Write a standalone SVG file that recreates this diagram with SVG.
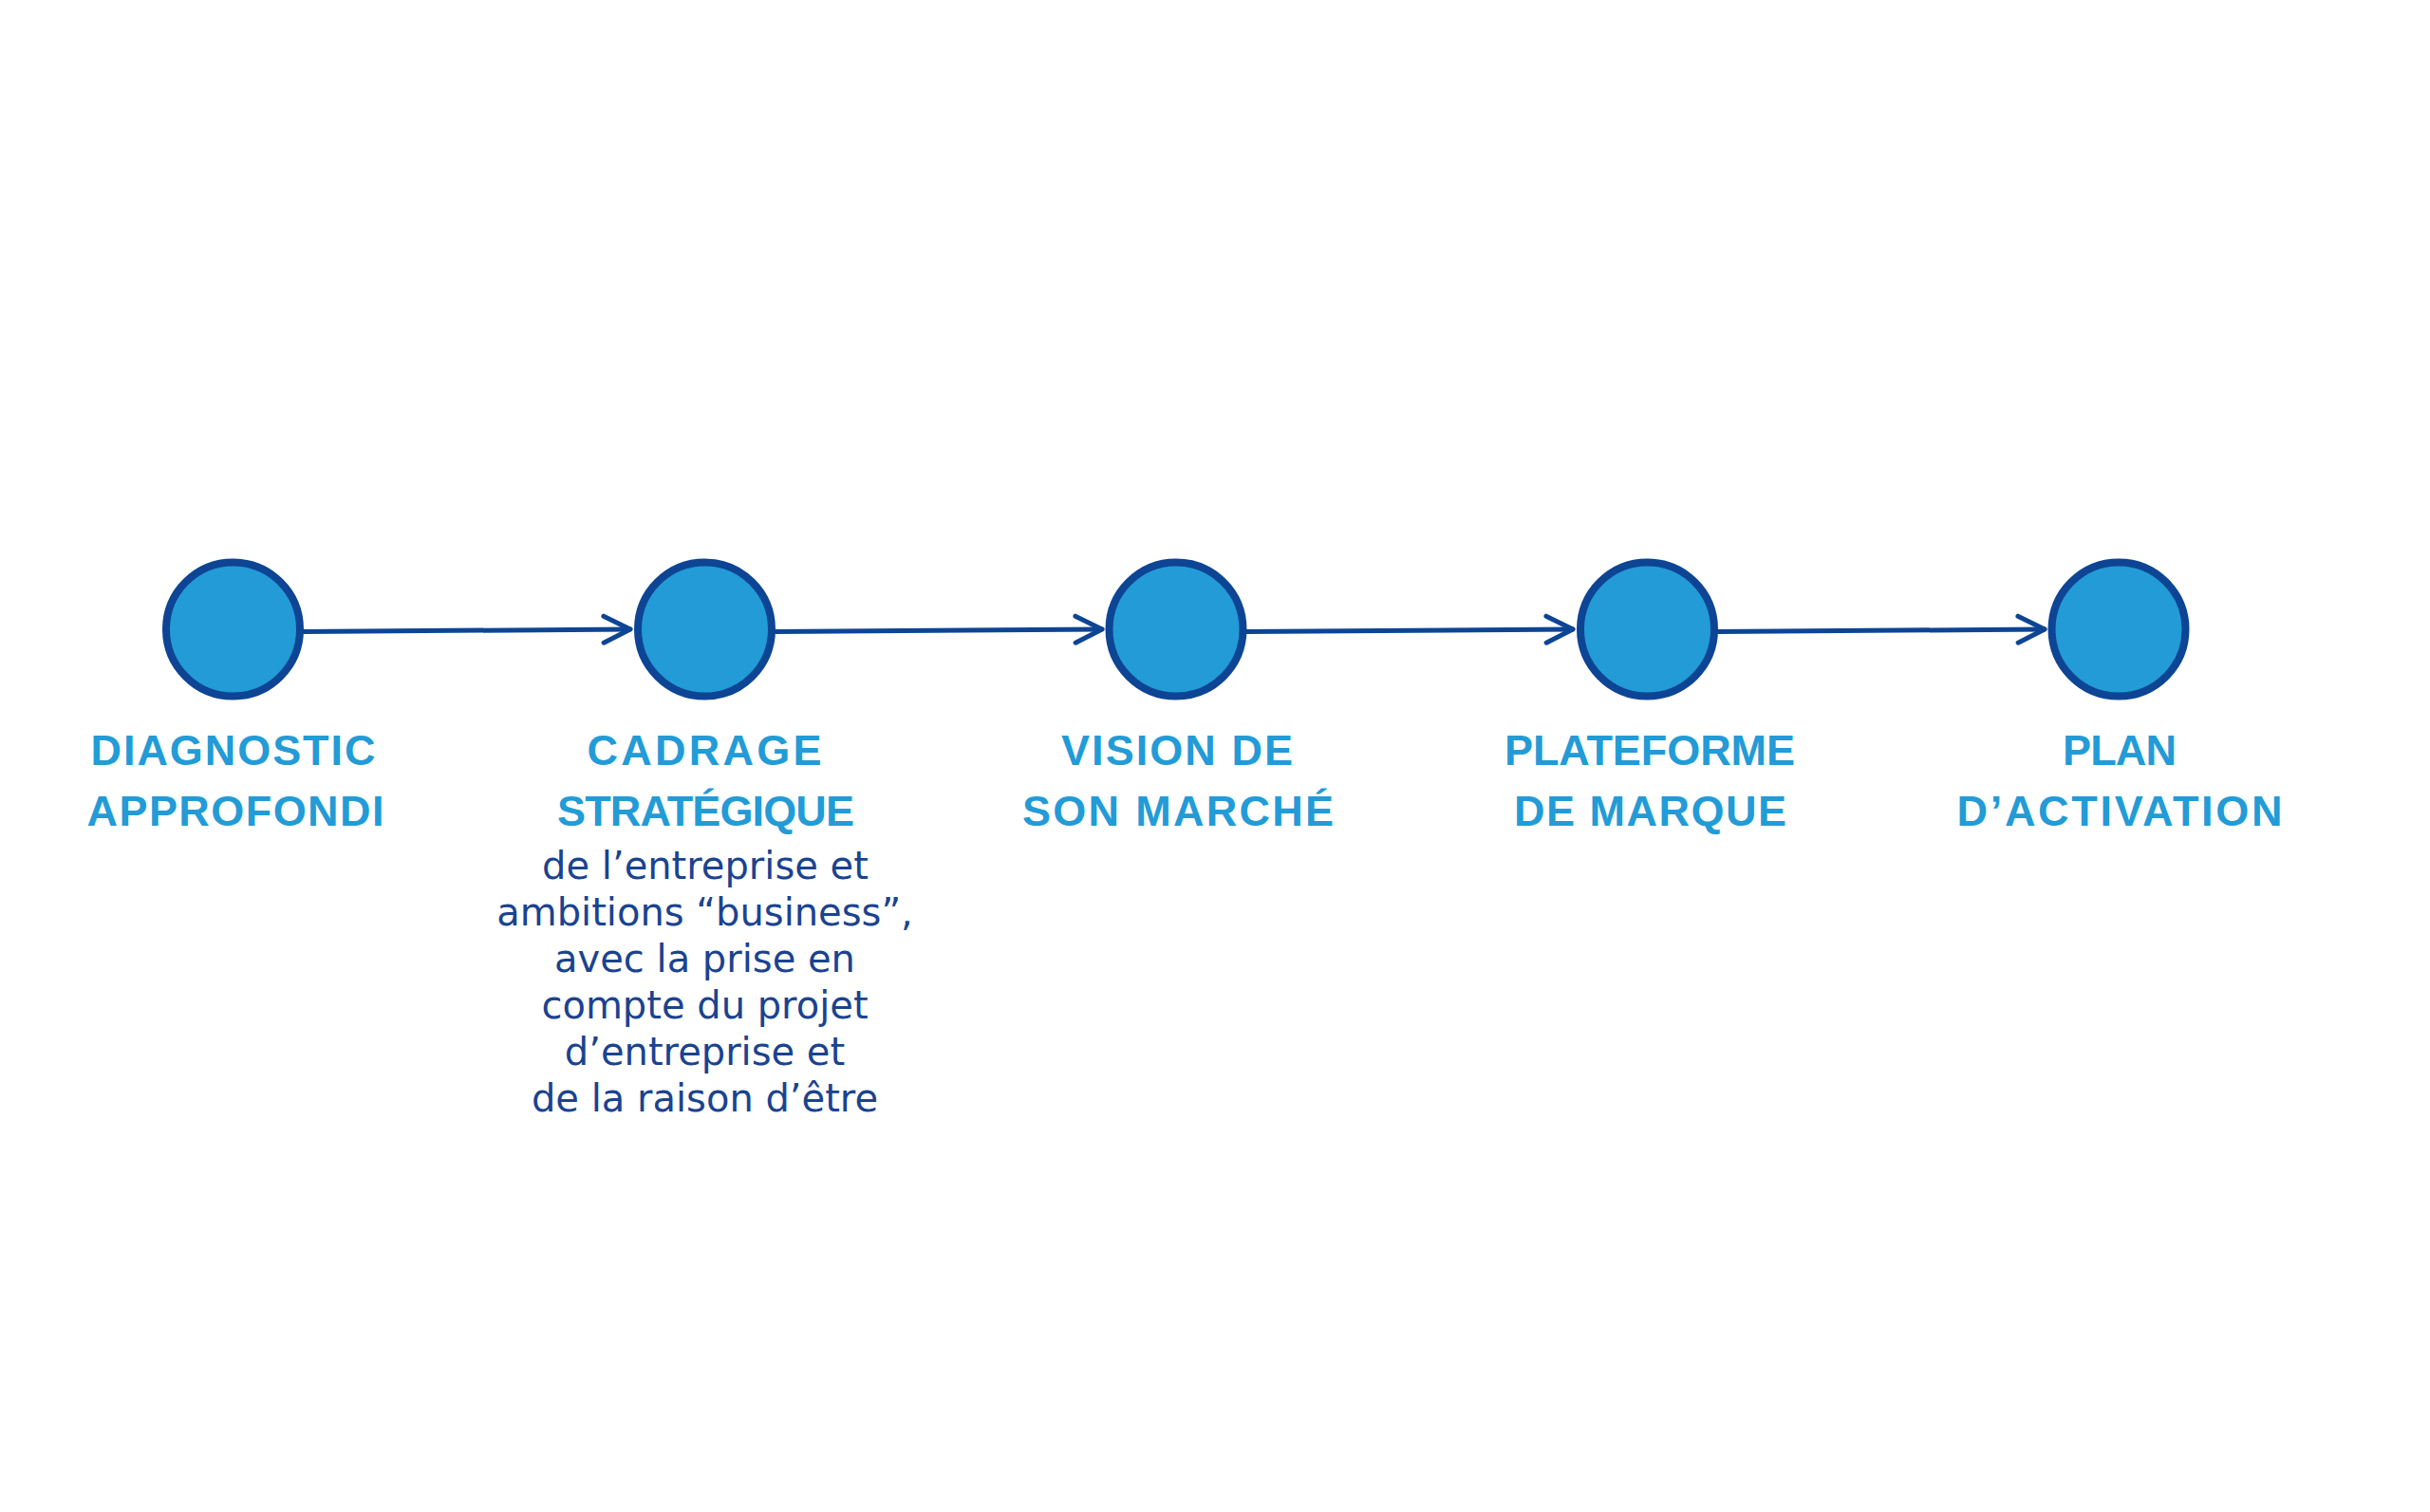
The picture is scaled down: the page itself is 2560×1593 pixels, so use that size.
<svg xmlns="http://www.w3.org/2000/svg" width="2560" height="1593" viewBox="0 0 2560 1593">
<style>
.node circle{fill:#239bd6;stroke:#0d4594;stroke-width:8}
.title{font-family:"Liberation Sans",Arial,sans-serif;font-weight:bold;font-size:45px;fill:#239bd6;text-anchor:middle}
.body{font-family:"DejaVu Sans","Liberation Sans",sans-serif;font-size:40px;fill:#1a4390;text-anchor:middle}
.conn{stroke:#0d4594;stroke-width:5;fill:none;stroke-linecap:round}
</style>
<defs>
<marker id="arr" markerUnits="userSpaceOnUse" viewBox="-36 -20 44 40" markerWidth="44" markerHeight="40" refX="0" refY="0" orient="auto">
<path d="M-28,-14 L0,0 L-28,14" fill="none" stroke="#0d4594" stroke-width="5" stroke-linecap="round" stroke-linejoin="round"/>
</marker>
</defs>
<rect width="2560" height="1593" fill="#ffffff"/>
<g id="connectors">
<line class="conn" x1="320" y1="665.5" x2="664" y2="663" marker-end="url(#arr)"/>
<line class="conn" x1="817" y1="665.5" x2="1161" y2="663" marker-end="url(#arr)"/>
<line class="conn" x1="1313" y1="665.5" x2="1657" y2="663" marker-end="url(#arr)"/>
<line class="conn" x1="1810" y1="665.5" x2="2154" y2="663" marker-end="url(#arr)"/>
</g>
<g id="node-diagnostic" class="node">
<circle cx="245.5" cy="663" r="70.5"/>
<text class="title" x="245.5" y="806" textLength="300" lengthAdjust="spacing">DIAGNOSTIC</text>
<text class="title" x="248" y="870" textLength="313" lengthAdjust="spacing">APPROFONDI</text>
</g>
<g id="node-cadrage" class="node">
<circle cx="742.5" cy="663" r="70.5"/>
<text class="title" x="742" y="806" textLength="247" lengthAdjust="spacing">CADRAGE</text>
<text class="title" x="743.5" y="870" textLength="313" lengthAdjust="spacing">STRATÉGIQUE</text>
<text class="body" x="743" y="926">de l’entreprise et</text>
<text class="body" x="742.5" y="975">ambitions “business”,</text>
<text class="body" x="742.5" y="1024">avec la prise en</text>
<text class="body" x="742.5" y="1073">compte du projet</text>
<text class="body" x="742.5" y="1122">d’entreprise et</text>
<text class="body" x="742.5" y="1171">de la raison d’être</text>
</g>
<g id="node-vision" class="node">
<circle cx="1239" cy="663" r="70.5"/>
<text class="title" x="1240" y="806" textLength="244" lengthAdjust="spacing">VISION DE</text>
<text class="title" x="1241" y="870" textLength="328" lengthAdjust="spacing">SON MARCHÉ</text>
</g>
<g id="node-plateforme" class="node">
<circle cx="1735.5" cy="663" r="70.5"/>
<text class="title" x="1738" y="806" textLength="306" lengthAdjust="spacing">PLATEFORME</text>
<text class="title" x="1738.5" y="870" textLength="287" lengthAdjust="spacing">DE MARQUE</text>
</g>
<g id="node-plan" class="node">
<circle cx="2232" cy="663" r="70.5"/>
<text class="title" x="2233" y="806" textLength="120" lengthAdjust="spacing">PLAN</text>
<text class="title" x="2233" y="870" textLength="343" lengthAdjust="spacing">D’ACTIVATION</text>
</g>
</svg>
